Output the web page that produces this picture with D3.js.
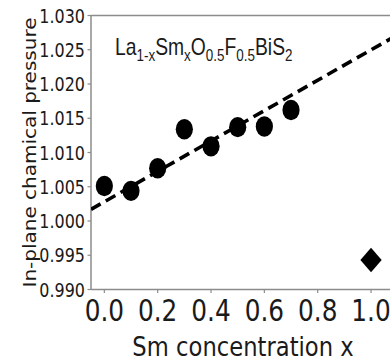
<!DOCTYPE html>
<html>
<head>
<meta charset="utf-8">
<script src="https://cdn.jsdelivr.net/npm/d3@7"></script>
<style>
  body { margin: 0; background: #fff; }
  svg text { font-family: "DejaVu Sans", sans-serif; fill: #1a1a1a; }
</style>
</head>
<body>
<div id="chart"></div>
<script>
// Sm concentration x and in-plane chemical pressure
const xValues = [0.0, 0.1, 0.2, 0.3, 0.4, 0.5, 0.6, 0.7];
const yValues = [1.0051, 1.0044, 1.0077, 1.0134, 1.0109, 1.0137, 1.0138, 1.0162];
// end member (x = 1.0), drawn as a diamond
const diamondX = [1.0];
const diamondY = [0.9943];
// dashed linear guide
const fitX = [-0.05, 1.1];
const fitY = [1.0017, 1.0272];

const xTicks = [0.0, 0.2, 0.4, 0.6, 0.8, 1.0];
const yTicks = [0.990, 0.995, 1.000, 1.005, 1.010, 1.015, 1.020, 1.025, 1.030];

const W = 390, H = 361;
const mLeft = 91, mTop = 15.5, mBottom = 289.5;
const sx = 0.84; // picture is squeezed horizontally

const svg = d3.select("#chart").append("svg")
  .attr("width", W).attr("height", H);

const x = d3.scaleLinear().domain([-0.05, 1.1]).range([mLeft, mLeft + 1.15 * 266.7]);
const y = d3.scaleLinear().domain([0.990, 1.030]).range([mBottom, mTop]);

svg.append("defs").append("clipPath").attr("id", "plot")
  .append("rect").attr("x", mLeft).attr("y", mTop)
  .attr("width", x.range()[1] - mLeft).attr("height", mBottom - mTop);

// spines
const spine = "#8c8c8c";
svg.append("line").attr("x1", mLeft).attr("x2", x.range()[1])
  .attr("y1", mTop).attr("y2", mTop).attr("stroke", spine).attr("stroke-width", 1.5);
svg.append("line").attr("x1", mLeft).attr("x2", x.range()[1])
  .attr("y1", mBottom).attr("y2", mBottom).attr("stroke", spine).attr("stroke-width", 1.5);
svg.append("line").attr("x1", mLeft).attr("x2", mLeft)
  .attr("y1", mTop).attr("y2", mBottom).attr("stroke", spine).attr("stroke-width", 1.5);

// y axis ticks + labels
const yAx = svg.append("g");
yAx.selectAll("line").data(yTicks).enter().append("line")
  .attr("x1", mLeft - 3.5).attr("x2", mLeft)
  .attr("y1", d => y(d)).attr("y2", d => y(d))
  .attr("stroke", spine).attr("stroke-width", 1.2);
yAx.selectAll("text").data(yTicks).enter().append("text")
  .attr("transform", d => "translate(85," + (y(d) + 7) + ") scale(" + sx + ",1)")
  .attr("text-anchor", "end")
  .style("font-size", "19px")
  .text(d => d3.format(".3f")(d));

// x axis ticks + labels
const xAx = svg.append("g");
xAx.selectAll("line").data(xTicks).enter().append("line")
  .attr("x1", d => x(d)).attr("x2", d => x(d))
  .attr("y1", mBottom).attr("y2", mBottom + 3.5)
  .attr("stroke", spine).attr("stroke-width", 1.2);
xAx.selectAll("text").data(xTicks).enter().append("text")
  .attr("transform", d => "translate(" + x(d) + ",321) scale(" + sx + ",1)")
  .attr("text-anchor", "middle")
  .style("font-size", "29.5px")
  .text(d => d3.format(".1f")(d));

// axis titles
svg.append("text")
  .attr("transform", "translate(" + x(0.52) + ",356) scale(" + sx + ",1)")
  .attr("text-anchor", "middle")
  .style("font-size", "27px")
  .text("Sm concentration x");

svg.append("text")
  .attr("transform", "translate(36," + ((mTop + mBottom) / 2) + ") scale(" + sx + ",1) rotate(-90)")
  .attr("text-anchor", "middle")
  .style("font-size", "20px")
  .text("In-plane chamical pressure");

// formula annotation
const ann = svg.append("text")
  .attr("transform", "translate(115,55) scale(" + sx + ",1)")
  .style("font-family", "'Liberation Sans', Arial, sans-serif")
  .style("font-size", "23px");
const parts = [["La", 0], ["1-x", 1], ["Sm", 0], ["x", 1], ["O", 0], ["0.5", 1],
               ["F", 0], ["0.5", 1], ["BiS", 0], ["2", 1]];
let prevSub = 0;
parts.forEach(p => {
  ann.append("tspan")
    .attr("dy", (p[1] ? 6 : 0) - (prevSub ? 6 : 0))
    .style("font-size", p[1] ? "16px" : "23px")
    .text(p[0]);
  prevSub = p[1];
});

// plot contents
const g = svg.append("g").attr("clip-path", "url(#plot)");

const line = d3.line().x(d => x(d[0])).y(d => y(d[1]));
g.append("path")
  .datum(d3.zip(fitX, fitY))
  .attr("d", line)
  .attr("fill", "none")
  .attr("stroke", "#000")
  .attr("stroke-width", 3.6)
  .attr("stroke-dasharray", "11,6");

g.selectAll("ellipse").data(d3.zip(xValues, yValues)).enter().append("ellipse")
  .attr("cx", d => x(d[0])).attr("cy", d => y(d[1]))
  .attr("rx", 8.6).attr("ry", 10.2)
  .attr("fill", "#000");

g.selectAll("path.dia").data(d3.zip(diamondX, diamondY)).enter().append("path")
  .attr("class", "dia")
  .attr("d", d3.symbol().type(d3.symbolSquare).size(300))
  .attr("transform", d => "translate(" + x(d[0]) + "," + y(d[1]) + ") scale(0.87,1) rotate(45)")
  .attr("fill", "#000");
</script>
</body>
</html>
